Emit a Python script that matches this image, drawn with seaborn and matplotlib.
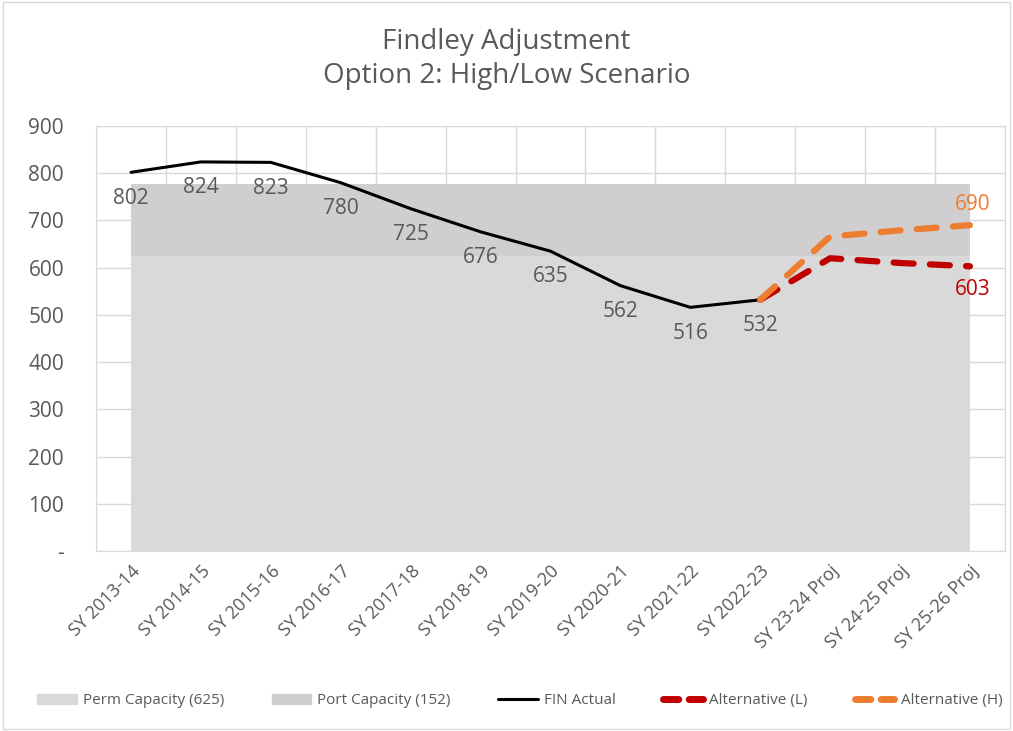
import numpy as np
import pandas as pd
import matplotlib.pyplot as plt
import seaborn as sns
from matplotlib.patches import Patch
from matplotlib.lines import Line2D

tahun = ["SY 2013-14", "SY 2014-15", "SY 2015-16", "SY 2016-17", "SY 2017-18",
         "SY 2018-19", "SY 2019-20", "SY 2020-21", "SY 2021-22", "SY 2022-23",
         "SY 23-24 Proj", "SY 24-25 Proj", "SY 25-26 Proj"]
perm_capacity = [625] * 13
port_capacity = [152] * 13
fin_actual = [802, 824, 823, 780, 725, 676, 635, 562, 516, 532]
alt_low = [532, 620, 610, 603]
alt_high = [532, 666, 679, 690]

sns.set_style("whitegrid")
plt.rcParams['font.family'] = ['Open Sans', 'DejaVu Sans']
abu = "#595959"

fig = plt.figure(figsize=(10.13, 7.31), dpi=100)
ax = fig.add_axes([0.0948, 0.2462, 0.8972, 0.5814])

x = np.arange(len(tahun))
ax.stackplot(x, perm_capacity, port_capacity, colors=["#d9d9d9", "#d0cece"],
             linewidth=0, edgecolor="none", zorder=1)

df_fin = pd.DataFrame({"x": x[:len(fin_actual)], "y": fin_actual})
df_l = pd.DataFrame({"x": x[9:], "y": alt_low})
df_h = pd.DataFrame({"x": x[9:], "y": alt_high})
sns.lineplot(data=df_fin, x="x", y="y", color="black", linewidth=2.2, ax=ax, zorder=3)
sns.lineplot(data=df_l, x="x", y="y", color="#c00000", linewidth=4.5, ax=ax, zorder=3)
sns.lineplot(data=df_h, x="x", y="y", color="#ed7d31", linewidth=4.5, ax=ax, zorder=4)
for line in ax.lines[1:]:
    line.set_dashes([3.2, 2.6])
    line.set_dash_capstyle("round")
    line.set_solid_capstyle("round")

for i, v in enumerate(fin_actual):
    ax.annotate(str(v), (x[i], v), xytext=(0, -11), textcoords="offset points",
                ha="center", va="top", fontsize=15, color=abu, zorder=5)
ax.annotate(str(alt_high[-1]), (x[-1], alt_high[-1]), xytext=(2, 7), textcoords="offset points",
            ha="center", va="bottom", fontsize=15, color="#ed7d31")
ax.annotate(str(alt_low[-1]), (x[-1], alt_low[-1]), xytext=(2, -9), textcoords="offset points",
            ha="center", va="top", fontsize=15, color="#c00000")

ax.set_xlim(-0.5, len(tahun) - 0.5)
ax.set_ylim(0, 900)
ax.set_yticks(range(0, 901, 100))
ax.set_yticklabels(["-"] + [str(v) for v in range(100, 901, 100)], fontsize=15, color=abu)
ax.set_xticks(x)
ax.set_xticklabels(tahun, rotation=45, ha="right", rotation_mode="anchor", fontsize=13, color=abu)
ax.set_xticks(np.arange(-0.5, len(tahun)), minor=True)
ax.grid(False)
ax.grid(True, which="minor", axis="x", color="#d9d9d9", linewidth=1)
ax.grid(True, which="major", axis="y", color="#d9d9d9", linewidth=1)
ax.tick_params(which="both", length=0)
ax.tick_params(axis="y", pad=23)
ax.tick_params(axis="x", pad=8)
ax.set_xlabel("")
ax.set_ylabel("")
for s in ax.spines.values():
    s.set_color("#d9d9d9")

fig.suptitle("Findley Adjustment\nOption 2: High/Low Scenario", y=0.962, fontsize=20,
             color=abu, linespacing=1.3)

handles = [Patch(color="#d9d9d9", label="Perm Capacity (625)"),
           Patch(color="#d0cece", label="Port Capacity (152)"),
           Line2D([], [], color="black", linewidth=2.2, label="FIN Actual"),
           Line2D([], [], color="#c00000", linewidth=5, dashes=[2.2, 1.5],
                  dash_capstyle="round", label="Alternative (L)"),
           Line2D([], [], color="#ed7d31", linewidth=5, dashes=[2.2, 1.5],
                  dash_capstyle="round", label="Alternative (H)")]
fig.legend(handles=handles, loc="lower center", bbox_to_anchor=(0.513, 0.012), ncol=5,
           frameon=False, fontsize=11, labelcolor=abu, handlelength=2.6,
           handletextpad=0.4, columnspacing=3.1)

fig.patches.append(plt.Rectangle((0.003, 0.003), 0.994, 0.994, transform=fig.transFigure,
                                 fill=False, edgecolor="#d9d9d9", linewidth=1))
fig.savefig("out.png", dpi=100)
